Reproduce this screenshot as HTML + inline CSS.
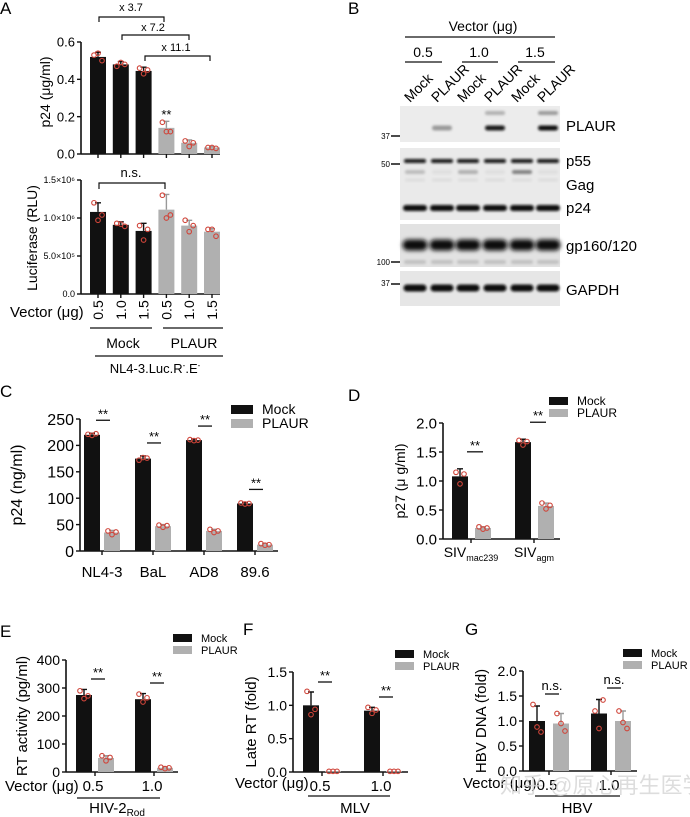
<!DOCTYPE html>
<html><head><meta charset="utf-8"><style>
html,body{margin:0;padding:0;background:#fff;}
svg{display:block;font-family:"Liberation Sans","Noto Sans CJK SC",sans-serif;}
</style></head><body>
<svg id="fig" width="690" height="817" viewBox="0 0 690 817">
<defs>
<filter id="blur1" x="-20%" y="-100%" width="140%" height="300%"><feGaussianBlur stdDeviation="1.3"/></filter>
<filter id="blur2" x="-20%" y="-100%" width="140%" height="300%"><feGaussianBlur stdDeviation="2"/></filter>
</defs>
<text x="0" y="14" font-size="17">A</text>
<text x="348" y="14" font-size="17">B</text>
<text x="0" y="397" font-size="17">C</text>
<text x="348" y="401" font-size="17">D</text>
<text x="0" y="637" font-size="17">E</text>
<text x="243" y="635" font-size="17">F</text>
<text x="465" y="635" font-size="17">G</text>

<g font-size="11" text-anchor="middle" stroke-width="1.2">
<text x="131" y="11">x 3.7</text>
<path d="M99 22 V17 H164 V22" fill="none" stroke="#111"/>
<text x="153" y="31">x 7.2</text>
<path d="M122 40 V35 H189 V40" fill="none" stroke="#111"/>
<text x="176" y="51">x 11.1</text>
<path d="M145 61 V56 H210 V61" fill="none" stroke="#111"/>
<text x="131" y="177" font-size="13">n.s.</text>
<path d="M99 189 V183 H165 V189" fill="none" stroke="#111"/>
</g>
<text transform="translate(50,92) rotate(-90)" font-size="14" text-anchor="middle">p24 (μg/ml)</text>
<text transform="translate(37,238) rotate(-90)" font-size="14" text-anchor="middle">Luciferase (RLU)</text>
<text x="10" y="317" font-size="15">Vector (μg)</text>
<g font-size="14" text-anchor="middle">
<line x1="90" y1="328" x2="152" y2="328" stroke="#111" stroke-width="1.2"/>
<line x1="163" y1="328" x2="223" y2="328" stroke="#111" stroke-width="1.2"/>
<text x="123" y="348">Mock</text>
<text x="194" y="348">PLAUR</text>
<line x1="95" y1="356" x2="223" y2="356" stroke="#111" stroke-width="1.2"/>
<text x="155" y="373" font-size="13">NL4-3.Luc.R<tspan font-size="8" dy="-5">-</tspan><tspan dy="5">.E</tspan><tspan font-size="8" dy="-5">-</tspan></text>
</g>

<g id="blot">
<text x="483" y="31" font-size="14" text-anchor="middle">Vector (μg)</text>
<line x1="405" y1="37" x2="555" y2="37" stroke="#111" stroke-width="1.2"/>
<text x="423" y="57" font-size="14" text-anchor="middle">0.5</text>
<text x="479" y="57" font-size="14" text-anchor="middle">1.0</text>
<text x="535" y="57" font-size="14" text-anchor="middle">1.5</text>
<line x1="405" y1="62" x2="442" y2="62" stroke="#111" stroke-width="1.2"/>
<line x1="462" y1="62" x2="498" y2="62" stroke="#111" stroke-width="1.2"/>
<line x1="518" y1="62" x2="555" y2="62" stroke="#111" stroke-width="1.2"/>
<g font-size="14" id="laneLabels"></g>
<rect x="400" y="106" width="160" height="36" fill="#ececec"/>
<rect x="400" y="148" width="160" height="72" fill="#eaeaea"/>
<rect x="400" y="224" width="160" height="43" fill="#e2e2e2"/>
<rect x="400" y="271" width="160" height="35" fill="#e6e6e6"/>
<g id="bands"></g>
<g font-size="15">
<text x="566" y="131">PLAUR</text>
<text x="566" y="166">p55</text>
<text x="566" y="190">Gag</text>
<text x="566" y="213">p24</text>
<text x="566" y="251">gp160/120</text>
<text x="566" y="295">GAPDH</text>
</g>
<g font-size="8" text-anchor="end">
<text x="390" y="139">37</text><line x1="391" y1="136" x2="400" y2="136" stroke="#111" stroke-width="1.5"/>
<text x="390" y="167">50</text><line x1="391" y1="164" x2="400" y2="164" stroke="#111" stroke-width="1.5"/>
<text x="390" y="265">100</text><line x1="391" y1="262" x2="400" y2="262" stroke="#111" stroke-width="1.5"/>
<text x="390" y="286">37</text><line x1="391" y1="284" x2="400" y2="284" stroke="#111" stroke-width="1.5"/>
</g>
</g>

<text transform="translate(22,485) rotate(-90)" font-size="16" text-anchor="middle">p24 (ng/ml)</text>
<text transform="translate(405,481) rotate(-90)" font-size="14" text-anchor="middle">p27 (μ g/ml)</text>
<text transform="translate(27,716) rotate(-90)" font-size="15" text-anchor="middle">RT activity (pg/ml)</text>
<text transform="translate(256,722) rotate(-90)" font-size="15" text-anchor="middle">Late RT (fold)</text>
<text transform="translate(486,721) rotate(-90)" font-size="15" text-anchor="middle">HBV DNA (fold)</text>

<g font-size="15">
<text x="5" y="791">Vector (μg)</text>
<line x1="77" y1="798" x2="160" y2="798" stroke="#111" stroke-width="1.2"/>
<text x="117" y="813" text-anchor="middle">HIV-2<tspan font-size="10" dy="3">Rod</tspan></text>
</g>
<g font-size="15">
<text x="235" y="788">Vector (μg)</text>
<line x1="308" y1="796" x2="390" y2="796" stroke="#111" stroke-width="1.2"/>
<text x="355" y="813" text-anchor="middle">MLV</text>
</g>
<g font-size="15">
<text x="463" y="788">Vector (μg)</text>
<line x1="535" y1="796" x2="620" y2="796" stroke="#111" stroke-width="1.2"/>
<text x="577" y="813" text-anchor="middle">HBV</text>
</g>
<g id="charts"></g>
<text x="500" y="793" font-size="22" fill="#d4d4d4" fill-opacity="0.8">知乎 @原心再生医学</text>
</svg>
<script>
const aCats = ['0.5','1.0','1.5','0.5','1.0','1.5'];
const aTopValues = [0.52,0.48,0.445,0.14,0.06,0.035];
const aTopErr = [0.025,0.015,0.02,0.035,0.015,0.005];
const aTopPts = [[0.53,0.54,0.50],[0.47,0.49,0.48],[0.46,0.43,0.45],[0.17,0.12,0.12],[0.07,0.04,0.06],[0.035,0.035,0.03]];
const aTopTicks = [0,0.2,0.4,0.6];
const aTopTickLabels = ['0.0','0.2','0.4','0.6'];
const aBotValues = [1.08,0.91,0.83,1.11,0.90,0.82];
const aBotErr = [0.12,0.04,0.10,0.20,0.07,0.04];
const aBotPts = [[1.20,0.97,1.04],[0.93,0.92,0.89],[0.90,0.71,0.85],[1.30,1.00,1.04],[0.97,0.82,0.90],[0.85,0.85,0.76]];
const aBotTicks = [0,0.5,1.0,1.5];
const aBotTickLabels = ['0.0','5.0×10⁵','1.0×10⁶','1.5×10⁶'];

const cCats = ['NL4-3','BaL','AD8','89.6'];
const cMock = [220,175,210,90];
const cMockErr = [3,5,2,2];
const cMockPts = [[221,219,222],[172,177,176],[211,209,210],[91,89,90]];
const cPlaur = [35,47,38,12];
const cPlaurErr = [4,3,3,2];
const cPlaurPts = [[38,31,36],[49,45,48],[41,35,38],[14,11,12]];
const cTicks = [0,50,100,150,200,250];

const dCats = ['mac239','agm'];
const dMock = [1.08,1.67];
const dMockErr = [0.13,0.05];
const dMockPts = [[1.15,0.95,1.12],[1.70,1.62,1.68]];
const dPlaur = [0.19,0.57];
const dPlaurErr = [0.02,0.05];
const dPlaurPts = [[0.21,0.17,0.19],[0.62,0.52,0.58]];
const dTicks = [0,0.5,1.0,1.5,2.0];
const dTickLabels = ['0.0','0.5','1.0','1.5','2.0'];

const eCats = ['0.5','1.0'];
const eMock = [275,260];
const eMockErr = [20,20];
const eMockPts = [[290,262,272],[278,250,265]];
const ePlaur = [50,15];
const ePlaurErr = [8,3];
const ePlaurPts = [[58,40,52],[17,12,15]];
const eTicks = [0,100,200,300,400];

const fCats = ['0.5','1.0'];
const fMock = [1.0,0.92];
const fMockErr = [0.2,0.05];
const fMockPts = [[1.21,0.86,0.94],[0.97,0.88,0.93]];
const fPlaur = [0.01,0.01];
const fPlaurErr = [0,0];
const fPlaurPts = [[0.01,0.01,0.01],[0.01,0.01,0.01]];
const fTicks = [0,0.5,1.0,1.5];
const fTickLabels = ['0.0','0.5','1.0','1.5'];

const gCats = ['0.5','1.0'];
const gMock = [1.0,1.15];
const gMockErr = [0.3,0.28];
const gMockPts = [[1.33,0.88,0.78],[1.20,0.85,1.42]];
const gPlaur = [0.95,1.0];
const gPlaurErr = [0.2,0.2];
const gPlaurPts = [[1.15,0.95,0.80],[1.20,0.97,0.85]];
const gTicks = [0,0.5,1.0,1.5,2.0];
const gTickLabels = ['0.0','0.5','1.0','1.5','2.0'];

const NS = 'http://www.w3.org/2000/svg';
const root = document.getElementById('charts');
function mk(tag, parent){ const e=document.createElementNS(NS,tag); parent.appendChild(e); return e; }
function setA(e, o){ for(const k in o) e.setAttribute(k, o[k]); }
const BLACK='#111', GRAY='#b0b0b0', RED='#d0453a';
const jit=[-4,0,4];

function yScale(ax){ return v => ax.y0 - v/ax.max*(ax.y0-ax.y1); }

function drawAxis(g, ax, ticks, labels){
  const y = yScale(ax);
  const yl = mk('line', g);
  setA(yl,{x1:ax.x,y1:ax.y0,x2:ax.x,y2:ax.y1,stroke:BLACK,'stroke-width':1.6});
  
  
  const xl = mk('line', g);
  setA(xl,{x1:ax.x,y1:ax.y0,x2:ax.xEnd,y2:ax.y0,stroke:BLACK,'stroke-width':1.6});
  
  
  ticks.forEach((t,i)=>{
    const tl = mk('line', g);
    setA(tl,{x1:ax.x-4,y1:y(t),x2:ax.x,y2:y(t),stroke:BLACK,'stroke-width':1.4});
    
    
    const tx = mk('text', g);
    setA(tx,{x:ax.x-6,y:y(t)+ax.fs*0.36,'font-size':ax.fs,'text-anchor':'end'});
    tx.textContent = labels ? labels[i] : String(t);
    
    
  });
}

function drawBar(g, ax, cx, w, v, err, pts, fill, errColor){
  const y = yScale(ax);
  const r = mk('rect', g);
  setA(r,{x:cx-w/2,y:y(v),width:w,height:ax.y0-y(v),fill:fill});
  
  
  if(err>0){
    const e = mk('path', g);
    setA(e,{d:`M${cx} ${y(v)} V${y(v+err)} M${cx-3} ${y(v+err)} H${cx+3}`,stroke:errColor,'stroke-width':1.4,fill:'none'});
    
    
  }
  pts.forEach((p,i)=>{
    const c = mk('circle', g);
    setA(c,{cx:cx+jit[i],cy:y(p),r:2.3,fill:'none',stroke:RED,'stroke-width':1.1});
    
    
  });
}

function xTick(g, ax, cx){
  const t = mk('line', g);
  setA(t,{x1:cx,y1:ax.y0,x2:cx,y2:ax.y0+4,stroke:BLACK,'stroke-width':1.4});
  
  
}
function xLabel(g, x, y, txt, fs){
  const t = mk('text', g);
  setA(t,{x:x,y:y,'font-size':fs,'text-anchor':'middle'});
  t.textContent = txt;
  
  
}
function sig(g, x1, x2, y, txt, fs){
  const l = mk('line', g);
  setA(l,{x1:x1,y1:y,x2:x2,y2:y,stroke:BLACK,'stroke-width':1.3});
  
  
  const t = mk('text', g);
  setA(t,{x:(x1+x2)/2,y:txt==='**'?y-2:y-4,'font-size':fs,'text-anchor':'middle'});
  t.textContent = txt;
  
  
}
function legend(g, x, y, w, h, gap, fs){
  [['Mock',BLACK],['PLAUR',GRAY]].forEach((it,i)=>{
    const r = mk('rect', g);
    setA(r,{x:x,y:y+i*gap,width:w,height:h,fill:it[1]});
    
    
    const t = mk('text', g);
    setA(t,{x:x+w+9,y:y+i*gap+h,'font-size':fs});
    t.textContent = it[0];
    
    
  });
}

(function(){
  const g = mk('g', root);
  
  
  const ax = {x:81,xEnd:220,y0:154,y1:42,max:0.6,fs:13};
  drawAxis(g, ax, aTopTicks, aTopTickLabels);
  aCats.forEach((c,i)=>{
    const cx = 98 + i*22.8;
    const m = i<3;
    drawBar(g, ax, cx, 16, aTopValues[i], aTopErr[i], aTopPts[i], m?BLACK:GRAY, m?BLACK:'#999');
    xTick(g, ax, cx);
  });
  const s = mk('text', g);
  setA(s,{x:98+3*22.8,y:119,'font-size':13,'text-anchor':'middle'});
  s.textContent='**';
  
  
})();
(function(){
  const g = mk('g', root);
  
  
  const ax = {x:81,xEnd:220,y0:294,y1:180,max:1.5,fs:9};
  drawAxis(g, ax, aBotTicks, aBotTickLabels);
  aCats.forEach((c,i)=>{
    const cx = 98 + i*22.8;
    const m = i<3;
    drawBar(g, ax, cx, 16, aBotValues[i], aBotErr[i], aBotPts[i], m?BLACK:GRAY, m?BLACK:'#999');
    xTick(g, ax, cx);
    const t = mk('text', g);
    setA(t,{transform:`translate(${cx+5},310) rotate(-90)`,'font-size':14,'text-anchor':'middle'});
    t.textContent = c;
    
    
  });
})();
(function(){
  const g = mk('g', root);
  
  
  const ax = {x:80,xEnd:278,y0:551,y1:419,max:250,fs:16};
  drawAxis(g, ax, cTicks, null);
  cCats.forEach((c,i)=>{
    const gc = 102 + i*51;
    drawBar(g, ax, gc-10, 16, cMock[i], cMockErr[i], cMockPts[i], BLACK, BLACK);
    drawBar(g, ax, gc+10, 16, cPlaur[i], cPlaurErr[i], cPlaurPts[i], GRAY, '#999');
    xTick(g, ax, gc);
    xLabel(g, gc, 577, c, 15);
    const ly = yScale(ax)(cMock[i]+cMockErr[i]) - 13;
    sig(g, gc-6, gc+8, ly, '**', 13);
  });
  legend(g, 231, 405, 22, 9, 14, 14);
})();
(function(){
  const g = mk('g', root);
  
  
  const ax = {x:443,xEnd:560,y0:539,y1:423,max:2.0,fs:15};
  drawAxis(g, ax, dTicks, dTickLabels);
  dCats.forEach((c,i)=>{
    const gc = 471 + i*63;
    drawBar(g, ax, gc-11, 16, dMock[i], dMockErr[i], dMockPts[i], BLACK, BLACK);
    drawBar(g, ax, gc+12, 16, dPlaur[i], dPlaurErr[i], dPlaurPts[i], GRAY, '#999');
    xTick(g, ax, gc);
    const t = mk('text', g);
    setA(t,{x:gc,y:557,'font-size':14,'text-anchor':'middle'});
    t.innerHTML = 'SIV<tspan font-size="9" dy="4">'+c+'</tspan>';
    
    
    const ly = yScale(ax)(dMock[i]+dMockErr[i]) - 17;
    sig(g, gc-4, gc+12, ly, '**', 13);
  });
  legend(g, 549, 397, 19, 8, 12, 12);
})();
function grouped(name, ax, cats, ticks, labels, mock, mErr, mPts, pl, pErr, pPts, gc0, step, off, sigTxt, sigY, leg){
  const g = mk('g', root);
  
  
  drawAxis(g, ax, ticks, labels);
  cats.forEach((c,i)=>{
    const gc = gc0 + i*step;
    drawBar(g, ax, gc-off, 16, mock[i], mErr[i], mPts[i], BLACK, BLACK);
    drawBar(g, ax, gc+off, 16, pl[i], pErr[i], pPts[i], GRAY, '#999');
    xTick(g, ax, gc);
    xLabel(g, gc-2, ax.y0+19, c, 15);
    sig(g, gc-4, gc+10, sigY[i], sigTxt, 13);
  });
  legend(g, leg[0], leg[1], 19, 8, 12, 11);
}
grouped('panel-e-chart', {x:66,xEnd:178,y0:772,y1:660,max:400,fs:14}, eCats, eTicks, null,
  eMock, eMockErr, eMockPts, ePlaur, ePlaurErr, ePlaurPts, 95, 59, 11, '**', [679,683], [173,634]);
grouped('panel-f-chart', {x:293,xEnd:408,y0:772,y1:672,max:1.5,fs:14}, fCats, fTicks, fTickLabels,
  fMock, fMockErr, fMockPts, fPlaur, fPlaurErr, fPlaurPts, 322, 61, 11, '**', [682,697], [395,650]);
grouped('panel-g-chart', {x:523,xEnd:637,y0:771,y1:671,max:2.0,fs:14}, gCats, gTicks, gTickLabels,
  gMock, gMockErr, gMockPts, gPlaur, gPlaurErr, gPlaurPts, 549, 62, 12, 'n.s.', [694,688], [623,649]);

const laneX = [415,442,468,495,522,548];
const laneNames = ['Mock','PLAUR','Mock','PLAUR','Mock','PLAUR'];
const ll = document.getElementById('laneLabels');
laneNames.forEach((n,i)=>{
  const t = mk('text', ll);
  setA(t,{transform:`translate(${laneX[i]-5},103) rotate(-45)`});
  t.textContent = n;
  
  
});
const bands = document.getElementById('bands');
function band(x, y, w, h, op, f){
  const r = mk('rect', bands);
  setA(r,{x:x-w/2,y:y-h/2,width:w,height:h,rx:h/2,fill:'#0a0a0a','fill-opacity':op,filter:f||'url(#blur1)'});
  
  
}
const plaurBand = [0,0.35,0,0.95,0,1];
const plaurUpper = [0,0,0,0.25,0,0.35];
const gagBand = [0.2,0.05,0.25,0.05,0.45,0.05];
laneX.forEach((x,i)=>{
  if(plaurBand[i]) band(x,128,20,5,plaurBand[i]);
  if(plaurUpper[i]) band(x,113,20,4,plaurUpper[i]);
  band(x,161,22,4,0.95);
  band(x,172,20,4,gagBand[i]);
  band(x,180,20,3,0.06);
  band(x,208,24,6,1);
  band(x,245,25,11,1,'url(#blur2)');
  band(x,262,22,4,0.15);
  band(x,288,23,7,1);
});
</script>
</body></html>
